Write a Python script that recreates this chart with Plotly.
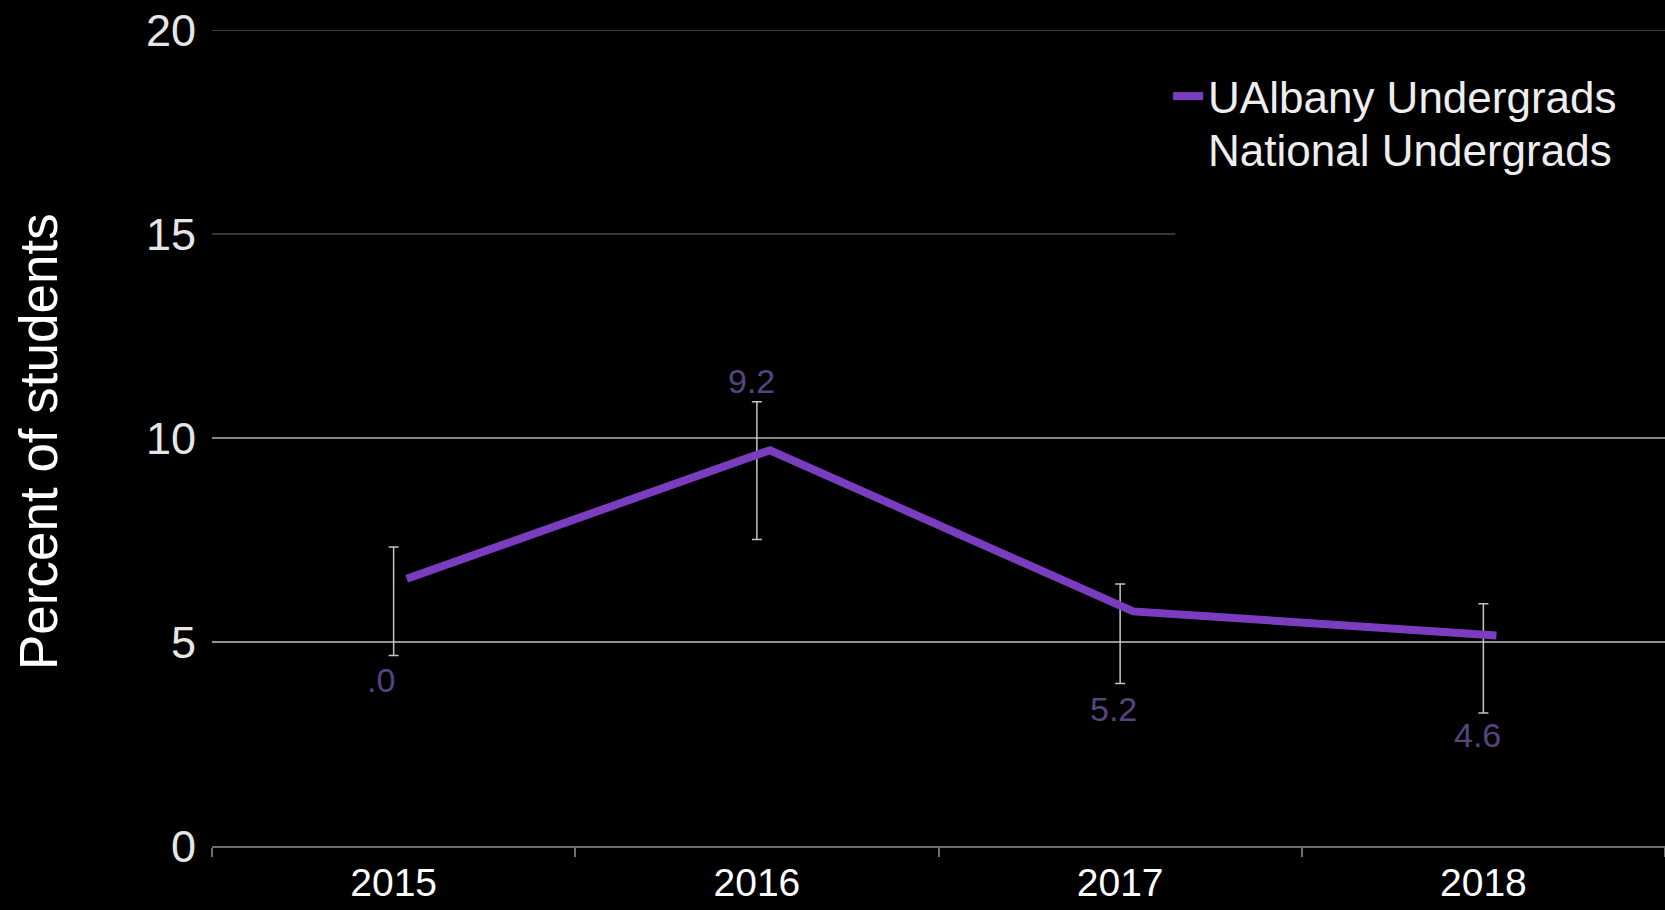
import plotly.graph_objects as go

# ---- data ----
years = ["2015", "2016", "2017", "2018"]
ualbany_line = [6.55, 9.7, 5.75, 5.16]          # drawn purple line
ualbany_values = [6.0, 9.2, 5.2, 4.6]            # centres of the error bars
ualbany_err = [1.33, 1.69, 1.22, 1.34]           # error bar half-lengths
ualbany_labels = [".0", "9.2", "5.2", "4.6"]     # data labels as shown
label_above = [False, True, False, False]
label_xshift = [-13, -5, -7, -6]
national_values = [None, None, None, None]       # no visible national line
y_ticks = [0, 5, 10, 15, 20]
grid_colors = {5: "#c4c4c4", 10: "#b0b0b0", 15: "#4a4a4a", 20: "#505050"}

PURPLE = "#7b3dbf"
LABEL_PURPLE = "#56447e"
line_offset = 0.036   # the purple line sits slightly right of the category centres
idx = list(range(len(years)))

fig = go.Figure()

# error bars around the labelled values (category axis)
fig.add_trace(go.Scatter(
    x=years, y=ualbany_values, mode="markers",
    marker=dict(size=1, color="rgba(0,0,0,0)"),
    error_y=dict(type="data", array=ualbany_err, visible=True,
                 color="#c4c4c4", thickness=1.5, width=5),
    showlegend=False, hoverinfo="skip", xaxis="x", yaxis="y",
))

# purple line on an overlaid numeric axis
fig.add_trace(go.Scatter(
    x=[i + line_offset for i in idx], y=ualbany_line,
    mode="lines", line=dict(color=PURPLE, width=8),
    name="UAlbany Undergrads", xaxis="x2", yaxis="y", legend="legend",
))
fig.add_trace(go.Scatter(
    x=idx, y=national_values,
    mode="lines", line=dict(color="#000000", width=8),
    name="National Undergrads", xaxis="x2", yaxis="y", legend="legend2",
))

# gridlines
for t in y_ticks[1:]:
    x1 = 0.663 if t == 15 else 1.0
    fig.add_shape(type="line", xref="paper", yref="y", x0=0, x1=x1, y0=t, y1=t,
                  line=dict(color=grid_colors[t], width=1.3), layer="below")

# data labels
for i, v, e, txt, above, xs in zip(idx, ualbany_values, ualbany_err,
                                   ualbany_labels, label_above, label_xshift):
    fig.add_annotation(
        x=i, y=(v + e) if above else (v - e), xref="x2", yref="y",
        text=txt, showarrow=False,
        yanchor="bottom" if above else "top",
        yshift=0 if above else (-4 if i < 3 else -1), xshift=xs,
        font=dict(family="Liberation Sans, Arial", size=34, color=LABEL_PURPLE),
    )

# y axis title
fig.add_annotation(
    x=0, y=0.5, xref="paper", yref="paper", xanchor="center", yanchor="middle",
    xshift=-174, yshift=-4, textangle=-90, showarrow=False,
    text="Percent of students",
    font=dict(family="Liberation Sans, Arial", size=53, color="#ffffff"),
)

legend_font = dict(family="Liberation Sans, Arial", size=44, color="#eeeeee")
fig.update_layout(
    width=1665, height=910,
    paper_bgcolor="#000000", plot_bgcolor="#000000",
    margin=dict(l=212, r=0, t=30, b=64, autoexpand=False),
    showlegend=True,
    legend=dict(x=0.658, y=0.962, xanchor="left", yanchor="top",
                bgcolor="rgba(0,0,0,0)", font=legend_font, itemwidth=30),
    legend2=dict(x=0.658, y=0.898, xanchor="left", yanchor="top",
                 bgcolor="rgba(0,0,0,0)", font=legend_font, itemwidth=30),
    xaxis=dict(
        type="category", categoryorder="array", categoryarray=years,
        range=[-0.5, 3.5], tickson="boundaries",
        showgrid=False, zeroline=False,
        showline=True, linecolor="#6e6e6e", linewidth=2,
        ticks="outside", ticklen=9, tickcolor="#6e6e6e", tickwidth=1.5,
        tickfont=dict(family="Liberation Sans, Arial", size=39, color="#ffffff"),
        ticklabelstandoff=1,
    ),
    xaxis2=dict(overlaying="x", range=[-0.5, 3.5], visible=False, showgrid=False),
    yaxis=dict(
        range=[0, 20], tickvals=y_ticks, ticktext=[str(t) for t in y_ticks],
        showgrid=False, zeroline=False, showline=False, ticks="",
        tickfont=dict(family="Liberation Sans, Arial", size=45, color="#e6e6e6"),
        ticklabelstandoff=15,
    ),
)

fig.write_html(
    "out.html",
    config={"displayModeBar": False},
    post_script="document.body.style.margin='0';document.body.style.background='#000';",
)
